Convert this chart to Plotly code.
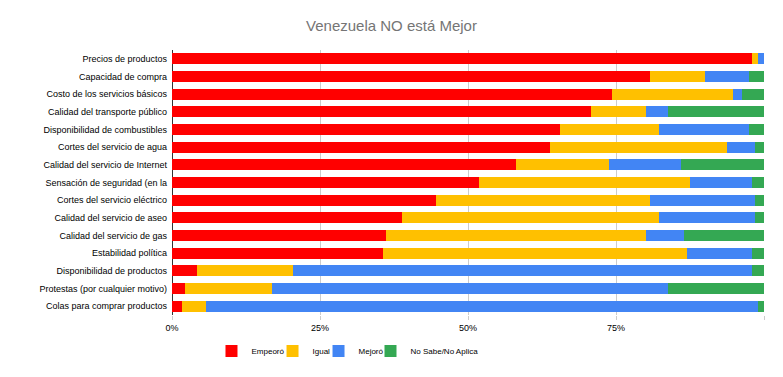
import plotly.graph_objects as go

categories = [
    "Precios de productos", "Capacidad de compra", "Costo de los servicios básicos",
    "Calidad del transporte público", "Disponibilidad de combustibles",
    "Cortes del servicio de agua", "Calidad del servicio de Internet",
    "Sensación de seguridad (en la", "Cortes del servicio eléctrico",
    "Calidad del servicio de aseo", "Calidad del servicio de gas",
    "Estabilidad política", "Disponibilidad de productos",
    "Protestas (por cualquier motivo)", "Colas para comprar productos",
]
empeoro = [98.0, 80.7, 74.3, 70.8, 65.5, 63.8, 58.1, 51.9, 44.6, 38.9, 36.1, 35.6, 4.2, 2.2, 1.7]
igual = [1.0, 9.3, 20.5, 9.3, 16.8, 30.0, 15.7, 35.6, 36.1, 43.4, 44.0, 51.4, 16.2, 14.7, 4.0]
mejoro = [1.0, 7.5, 1.5, 3.7, 15.2, 4.7, 12.2, 10.5, 17.8, 16.2, 6.4, 11.0, 77.6, 66.9, 93.3]
no_sabe = [0.0, 2.5, 3.7, 16.2, 2.5, 1.5, 14.0, 2.0, 1.5, 1.5, 13.5, 2.0, 2.0, 16.2, 1.0]

series = [
    ("Empeoró", empeoro, "#ff0000"),
    ("Igual", igual, "#ffc000"),
    ("Mejoró", mejoro, "#4285f4"),
    ("No Sabe/No Aplica", no_sabe, "#34a853"),
]
legend_ids = ["legend", "legend2", "legend3", "legend4"]
legend_x = [0.0667, 0.1698, 0.2475, 0.3353]

fig = go.Figure()
for (name, vals, color), lid in zip(series, legend_ids):
    fig.add_trace(go.Bar(
        y=categories, x=[v / 100 for v in vals], name=name, orientation="h",
        marker=dict(color=color, line=dict(width=0)), legend=lid, showlegend=True,
        hovertemplate="%{y}: %{x:.1%}<extra>" + name + "</extra>",
    ))

legend_common = dict(orientation="h", xanchor="left", y=-0.136, yanchor="middle",
                     font=dict(size=8, color="#000000"), itemwidth=30,
                     bgcolor="rgba(0,0,0,0)")

fig.update_layout(
    showlegend=True,
    barmode="stack",
    bargap=0.38,
    width=767, height=361,
    margin=dict(l=164, r=11, t=42, b=54, autoexpand=False),
    paper_bgcolor="white", plot_bgcolor="white",
    font=dict(family="Liberation Sans, Arial, sans-serif", size=9, color="#000000"),
    title=dict(text="Venezuela NO está Mejor", x=0.5, xanchor="center", y=0.95, yanchor="middle",
               font=dict(size=15, color="#757575")),
    xaxis=dict(range=[0, 1], tickvals=[0, 0.25, 0.5, 0.75, 1], tickformat=".0%",
               showgrid=True, gridcolor="#cccccc", gridwidth=1,
               zeroline=True, zerolinecolor="#333333", zerolinewidth=1,
               ticks="outside", ticklen=4, tickcolor="#cccccc",
               tickfont=dict(size=9, color="#000000"), fixedrange=True),
    yaxis=dict(autorange="reversed", showgrid=False, ticks="", ticklabelstandoff=4,
               tickfont=dict(size=9, color="#000000")),
    legend=dict(x=legend_x[0], **legend_common),
    legend2=dict(x=legend_x[1], **legend_common),
    legend3=dict(x=legend_x[2], **legend_common),
    legend4=dict(x=legend_x[3], **legend_common),
)

fig.write_html("out.html")
